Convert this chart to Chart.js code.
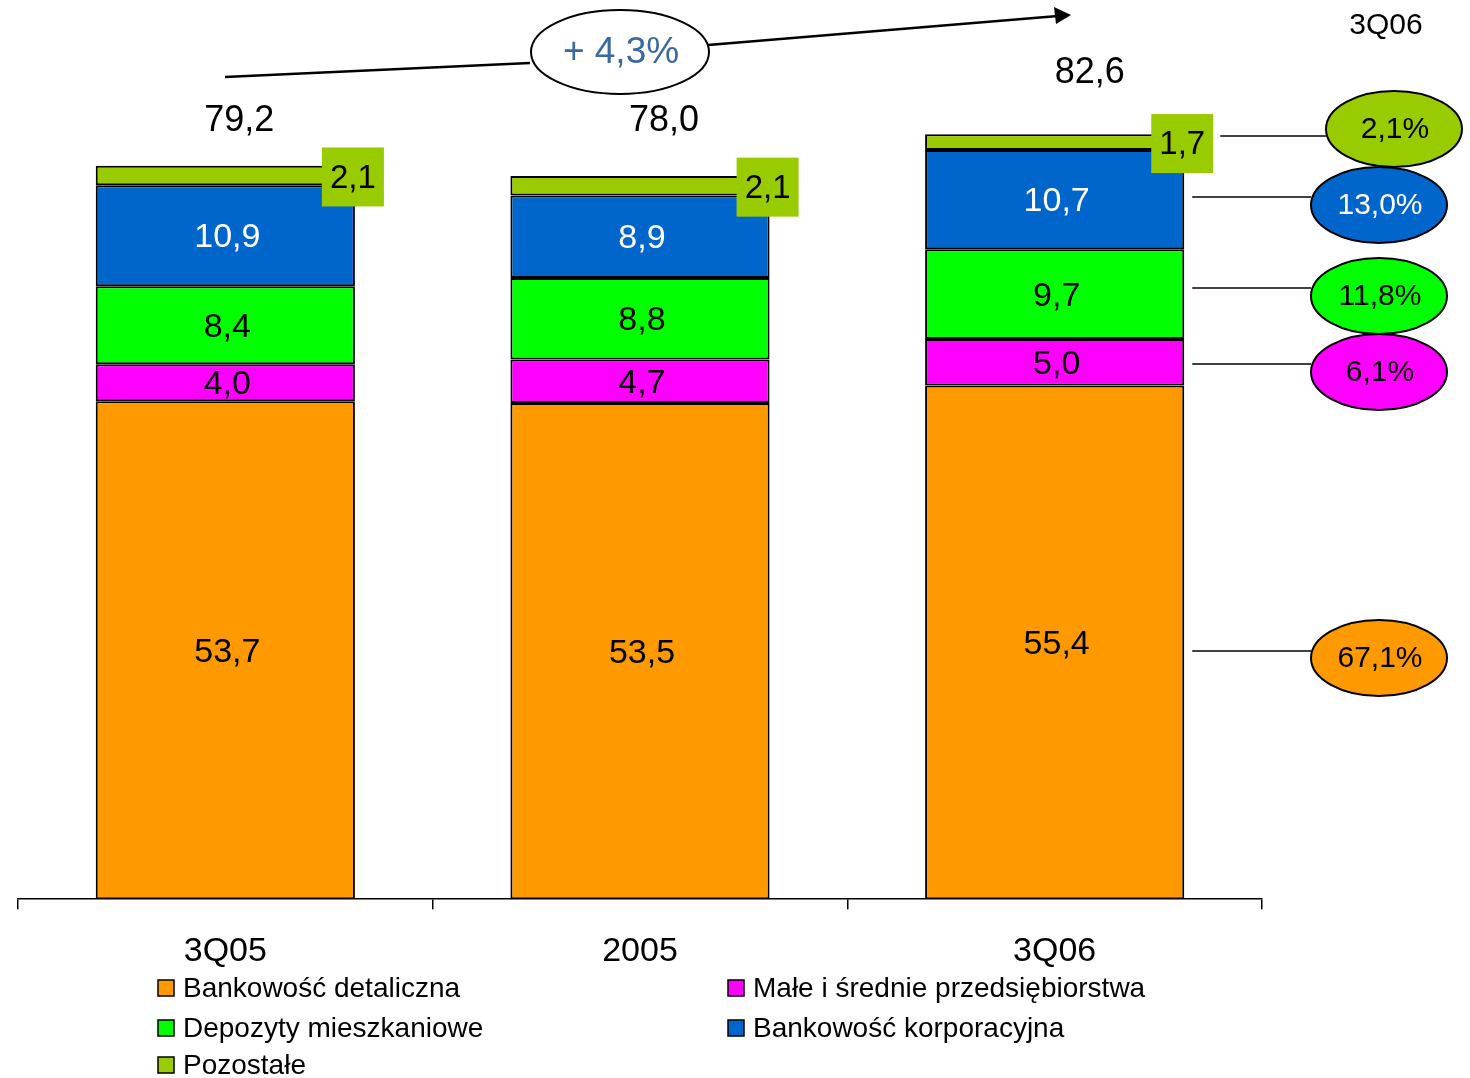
<!DOCTYPE html>
<html>
<head>
<meta charset="utf-8">
<script src="https://cdn.jsdelivr.net/npm/chart.js@4.4.0/dist/chart.umd.min.js"></script>
<style>
  html, body { margin: 0; padding: 0; background: #fff; }
  #wrap { width: 1470px; height: 1078px; position: relative; }
</style>
</head>
<body>
<div id="wrap"><canvas id="myChart" width="1470" height="1078"></canvas></div>
<script>
const FONT = "'Liberation Sans', Arial, sans-serif";

const categories = ['3Q05', '2005', '3Q06'];
const detaliczna = [53.7, 53.5, 55.4];
const msp = [4.0, 4.7, 5.0];
const depozyty = [8.4, 8.8, 9.7];
const korporacyjna = [10.9, 8.9, 10.7];
const pozostale = [2.1, 2.1, 1.7];
const totals = [79.2, 78.0, 82.6];
// udzialy segmentow w 3Q06 (od dolu)
const shares3Q06 = ['67,1%', '6,1%', '11,8%', '13,0%', '2,1%'];
const growthLabel = '+ 4,3%';

const COLORS = ['#FF9900', '#FF00FF', '#00FF00', '#0066CC', '#99CC00'];
const seriesNames = ['Bankowość detaliczna', 'Małe i średnie przedsiębiorstwa',
  'Depozyty mieszkaniowe', 'Bankowość korporacyjna', 'Pozostałe'];
const seriesData = [detaliczna, msp, depozyty, korporacyjna, pozostale];

const fmt = v => v.toFixed(1).replace('.', ',');

const data = {
  labels: categories,
  datasets: seriesData.map((d, i) => ({
    label: seriesNames[i],
    data: d,
    backgroundColor: COLORS[i],
    borderColor: '#000',
    borderWidth: 2,
    borderSkipped: false,
    barPercentage: 0.625,
    categoryPercentage: 1.0
  }))
};

function ellipse(ctx, cx, cy, rx, ry, fill) {
  ctx.beginPath();
  ctx.ellipse(cx, cy, rx, ry, 0, 0, Math.PI * 2);
  ctx.fillStyle = fill;
  ctx.fill();
  ctx.lineWidth = 2;
  ctx.strokeStyle = '#000';
  ctx.stroke();
}

function line(ctx, x1, y1, x2, y2, w) {
  ctx.beginPath();
  ctx.moveTo(x1, y1);
  ctx.lineTo(x2, y2);
  ctx.lineWidth = w;
  ctx.strokeStyle = '#000';
  ctx.stroke();
}

const annotations = {
  id: 'annotations',
  afterDatasetsDraw(chart) {
    const ctx = chart.ctx;
    const xs = chart.scales.x, ys = chart.scales.y;
    ctx.save();
    ctx.textAlign = 'center';
    ctx.textBaseline = 'middle';

    // etykiety segmentow
    for (let c = 0; c < categories.length; c++) {
      let base = 0;
      for (let s = 0; s < 4; s++) {
        const v = seriesData[s][c];
        const mid = ys.getPixelForValue(base + v / 2);
        ctx.font = '34px ' + FONT;
        ctx.fillStyle = s === 3 ? '#fff' : '#000';
        ctx.fillText(fmt(v), xs.getPixelForValue(c) + 2, mid + 2);
        base += v;
      }
      // Pozostale - zielone pole przy prawej krawedzi
      const bar = chart.getDatasetMeta(4).data[c];
      const v = pozostale[c];
      const midY = ys.getPixelForValue(base + v / 2) + 2;
      const right = bar.x + bar.width / 2;
      ctx.fillStyle = '#99CC00';
      ctx.fillRect(right - 33, midY - 30, 62, 59);
      ctx.fillStyle = '#000';
      ctx.font = '33px ' + FONT;
      ctx.fillText(fmt(v), right - 2, midY + 1);
    }

    // sumy nad slupkami
    const totalOffsets = [[14, -44], [24, -55], [35, -60]];
    ctx.font = '36px ' + FONT;
    ctx.fillStyle = '#000';
    totals.forEach((t, c) => {
      ctx.fillText(fmt(t), xs.getPixelForValue(c) + totalOffsets[c][0],
        ys.getPixelForValue(t) + totalOffsets[c][1]);
    });

    // strzalka wzrostu
    line(ctx, 225, 77, 530, 63, 2.5);
    line(ctx, 708, 45, 1058, 16, 2.5);
    ctx.beginPath();
    ctx.moveTo(1071, 15);
    ctx.lineTo(1054, 7);
    ctx.lineTo(1056, 24);
    ctx.closePath();
    ctx.fillStyle = '#000';
    ctx.fill();
    ellipse(ctx, 620, 52, 89, 42, '#fff');
    ctx.font = '37px ' + FONT;
    ctx.fillStyle = '#3A68A0';
    ctx.fillText(growthLabel, 621, 53);

    ctx.font = '30px ' + FONT;
    ctx.fillStyle = '#000';
    ctx.fillText('3Q06', 1386, 26);

    // udzialy 3Q06
    const bar3 = chart.getDatasetMeta(0).data[2];
    const r3 = bar3.x + bar3.width / 2;
    const shapes = [
      { line: 651, cx: 1379, cy: 658 },
      { line: 364, cx: 1379, cy: 372 },
      { line: 288, cx: 1379, cy: 296 },
      { line: 197, cx: 1379, cy: 205 },
      { line: 136, cx: 1394, cy: 129 }
    ];
    shapes.forEach((sh, i) => {
      const x1 = i === 4 ? r3 + 36 : r3 + 8;
      line(ctx, x1, sh.line, sh.cx - 68, sh.line, 1.5);
      ellipse(ctx, sh.cx, sh.cy, 68, 38, COLORS[i]);
      ctx.font = '30px ' + FONT;
      ctx.fillStyle = i === 3 ? '#fff' : '#000';
      ctx.fillText(shares3Q06[i], sh.cx + 1, sh.cy + 1);
    });

    // legenda
    const legendPos = [[158, 988], [728, 988], [158, 1028], [728, 1028], [158, 1065]];
    ctx.textAlign = 'left';
    ctx.font = '28px ' + FONT;
    seriesNames.forEach((n, i) => {
      const [lx, ly] = legendPos[i];
      ctx.fillStyle = COLORS[i];
      ctx.fillRect(lx, ly - 8, 16, 16);
      ctx.lineWidth = 1.5;
      ctx.strokeStyle = '#000';
      ctx.strokeRect(lx, ly - 8, 16, 16);
      ctx.fillStyle = '#000';
      ctx.fillText(n, lx + 25, ly + 1);
    });
    ctx.restore();
  }
};

const config = {
  type: 'bar',
  data: data,
  options: {
    responsive: false,
    animation: false,
    layout: { padding: { left: 18, right: 208, top: 9, bottom: 84 } },
    plugins: {
      legend: { display: false },
      tooltip: { enabled: false },
      title: { display: false }
    },
    scales: {
      x: {
        stacked: true,
        grid: {
          offset: true,
          drawOnChartArea: false,
          drawTicks: true,
          tickLength: 10,
          color: '#000',
          lineWidth: 1.5
        },
        border: { display: true, color: '#000', width: 1.5 },
        ticks: { color: '#000', font: { family: FONT, size: 34 }, padding: 22 }
      },
      y: {
        stacked: true,
        display: false,
        min: 0,
        max: 96
      }
    }
  },
  plugins: [annotations]
};

const ctxChart = document.getElementById('myChart').getContext('2d');
const chart = new Chart(ctxChart, config);
</script>
</body>
</html>
